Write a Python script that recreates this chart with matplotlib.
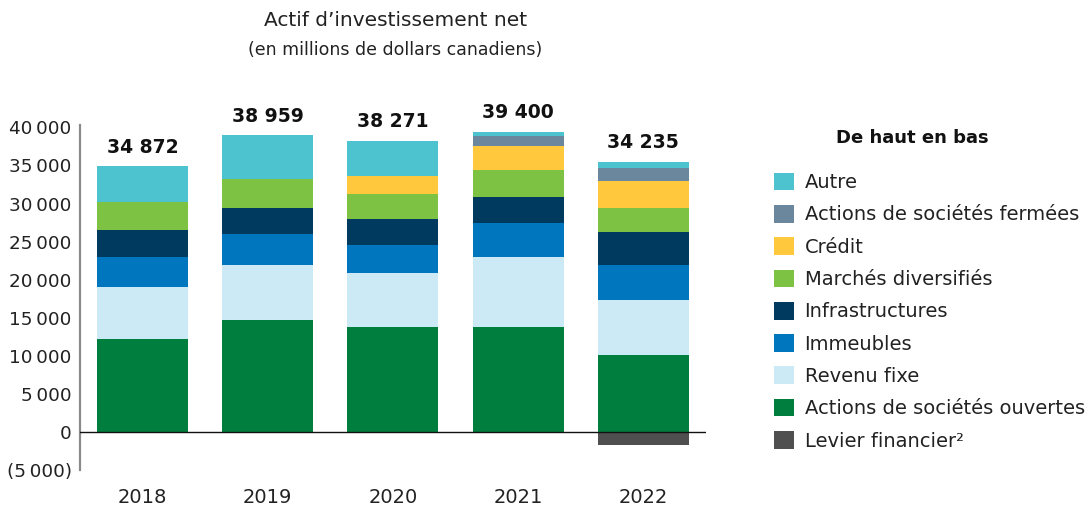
import matplotlib
matplotlib.use("Agg")
import matplotlib.pyplot as plt
from matplotlib.ticker import FuncFormatter
from matplotlib.patches import Patch
import numpy as np

years = ["2018", "2019", "2020", "2021", "2022"]
totals = [34872, 38959, 38271, 39400, 34235]

# bottom to top
actions_ouvertes = [12300, 14700, 13800, 13800, 10100]
revenu_fixe = [6800, 7200, 7100, 9200, 7200]
immeubles = [3900, 4100, 3700, 4400, 4700]
infrastructures = [3500, 3400, 3400, 3400, 4300]
marches_diversifies = [3700, 3800, 3300, 3600, 3100]
credit = [0, 0, 2300, 3200, 3500]
actions_fermees = [0, 0, 0, 1200, 1700]
autre = [4672, 5759, 4671, 600, 900]
levier = [0, 0, 0, 0, -1700]

series = [
    ("Actions de sociétés ouvertes", actions_ouvertes, "#007E3E"),
    ("Revenu fixe", revenu_fixe, "#CCEAF6"),
    ("Immeubles", immeubles, "#0076BE"),
    ("Infrastructures", infrastructures, "#003A5F"),
    ("Marchés diversifiés", marches_diversifies, "#7DC243"),
    ("Crédit", credit, "#FFC83D"),
    ("Actions de sociétés fermées", actions_fermees, "#6A879E"),
    ("Autre", autre, "#4CC3CF"),
]
levier_label = "Levier financier²"
levier_color = "#4F4F4F"

plt.rcParams["font.family"] = ["DejaVu Sans"]

fig = plt.figure(figsize=(10.89, 5.12), dpi=100)
ax = fig.add_axes([0.0735, 0.0812, 0.5746, 0.6746])

x = np.arange(len(years))
width = 0.728
bottom = np.zeros(len(years))
containers = []
for name, vals, col in series:
    vals = np.array(vals, dtype=float)
    c = ax.bar(x, vals, width, bottom=bottom, color=col, label=name,
               edgecolor="none", zorder=2)
    containers.append(c)
    bottom = bottom + vals
lev = ax.bar(x, levier, width, color=levier_color, label=levier_label,
             edgecolor="none", zorder=2)

ax.bar_label(containers[-1], labels=[f"{t:,}".replace(",", " ") for t in totals],
             padding=7, fontsize=13.5, fontweight="bold", color="#111111")

ax.set_xlim(-0.5, 4.5)
ax.set_ylim(-4900, 40300)
ax.set_yticks(np.arange(-5000, 40001, 5000))


def fmt(v, pos):
    v = int(round(v))
    s = f"{abs(v):,}".replace(",", "\u2009")
    return f"({s})" if v < 0 else s


ax.yaxis.set_major_formatter(FuncFormatter(fmt))
ax.set_xticks(x)
ax.set_xticklabels(years)
ax.tick_params(axis="y", length=0, pad=6, labelsize=13.2, labelcolor="#222222")
ax.tick_params(axis="x", length=0, pad=13, labelsize=14, labelcolor="#222222")

for s in ["top", "right", "bottom"]:
    ax.spines[s].set_visible(False)
ax.spines["left"].set_color("#8a8a8a")
ax.spines["left"].set_linewidth(1.6)
ax.axhline(0, color="#111111", linewidth=1.0, zorder=3)

fig.text(0.363, 0.959, "Actif d’investissement net", ha="center", va="center",
         fontsize=14.5, color="#222222")
fig.text(0.363, 0.902, "(en millions de dollars canadiens)", ha="center", va="center",
         fontsize=12.5, color="#222222")

fig.text(0.838, 0.730, "De haut en bas", ha="center", va="center",
         fontsize=13, fontweight="bold", color="#111111")

handles = [Patch(facecolor=col, edgecolor="none", label=name)
           for name, vals, col in reversed(series)]
handles.append(Patch(facecolor=levier_color, edgecolor="none", label=levier_label))
leg = fig.legend(handles=handles, loc="upper left", bbox_to_anchor=(0.7034, 0.678),
                 frameon=False, fontsize=14,
                 handlelength=1.03, handleheight=1.03, handletextpad=0.55,
                 labelspacing=0.656, borderaxespad=0)
for t in leg.get_texts():
    t.set_color("#222222")

fig.savefig("out.png", dpi=100, facecolor="white")
